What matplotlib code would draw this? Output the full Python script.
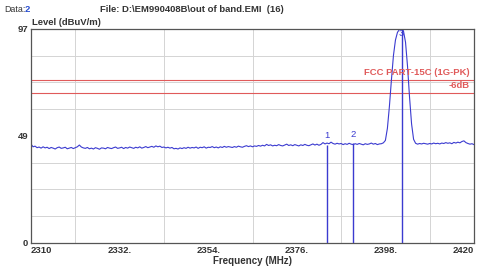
"""Spectrum scan plot (2310-2420 MHz) with FCC Part 15C limit and markers."""

import matplotlib
matplotlib.use("Agg")
import matplotlib.pyplot as plt
import numpy as np

plt.rcParams["font.family"] = ["Liberation Sans", "DejaVu Sans"]

# Trace: level (dBuV/m) vs frequency (MHz), 0.5 MHz steps in the noise floor
noise_freq = [2310 + 0.5 * i for i in range(176)]
noise_level = [
    44.8, 43.6, 43.9, 43.2, 43.5, 43.0, 43.6, 43.1, 43.4, 42.8,
    43.3, 43.0, 42.6, 43.2, 43.5, 42.9, 43.1, 43.4, 42.7, 43.0,
    43.3, 42.8, 43.2, 43.6, 44.4, 43.5, 43.1, 42.9, 43.3, 42.7,
    43.0, 42.6, 43.2, 42.9, 42.5, 43.1, 43.0, 42.7, 43.3, 43.0,
    42.8, 43.2, 43.5, 42.9, 43.1, 43.4, 42.8, 43.3, 43.0, 43.5,
    43.2, 42.9, 43.4, 43.1, 43.6, 43.0, 43.3, 43.7, 43.2, 43.5,
    43.8, 43.4, 44.0, 43.6, 43.9, 43.3, 43.5, 43.1, 43.4, 43.0,
    43.3, 42.7, 42.9, 42.6, 43.1, 42.8, 43.2, 42.9, 43.4, 43.0,
    43.3, 43.1, 43.5, 42.9, 43.4, 43.2, 43.6, 43.0, 43.4, 43.3,
    43.7, 43.2, 43.5, 43.1, 43.6, 43.3, 43.8, 43.4, 43.7, 43.5,
    43.3, 43.7, 43.4, 43.9, 43.6, 43.4, 43.8, 44.1, 43.7, 44.0,
    43.6, 44.0, 43.8, 44.2, 43.9, 44.3, 44.0, 44.7, 44.2, 44.5,
    44.0, 44.3, 44.1, 44.6, 44.2, 44.0, 44.4, 44.8, 44.2, 44.5,
    44.1, 44.6, 44.3, 44.0, 44.5, 44.2, 44.7, 44.3, 44.1, 44.5,
    44.9, 44.4, 44.8, 44.3, 44.7, 45.5, 44.9, 45.3, 45.0, 45.7,
    45.1, 44.8, 45.2, 44.9, 45.1, 44.6, 45.0, 44.7, 45.2, 44.8,
    44.6, 45.0, 44.7, 45.1, 44.8, 44.5, 45.0, 44.7, 44.9, 45.3,
    44.8, 45.1, 44.6, 44.9, 45.0, 45.4,
]
peak_freq = [2398.0, 2398.5, 2399.0, 2399.5, 2400.0, 2400.5, 2401.0, 2401.5,
             2402.0, 2402.5, 2403.0, 2403.5, 2404.0, 2404.5, 2405.0, 2405.5]
peak_level = [46.5, 52.0, 62.0, 74.0, 85.0, 92.0, 95.5, 96.8,
              97.0, 96.0, 91.0, 80.0, 66.0, 54.0, 47.0, 45.2]
tail_freq = [2406 + 0.5 * i for i in range(29)]
tail_level = [44.8, 45.1, 44.9, 45.2, 45.0, 44.8, 45.1, 44.9, 45.3, 45.0,
              45.2, 44.9, 45.3, 45.1, 45.5, 45.2, 45.4, 45.0, 45.6, 45.3,
              45.7, 45.4, 46.0, 46.3, 45.5, 45.1, 44.8, 45.0, 44.6]

freq = noise_freq + peak_freq + tail_freq
level = noise_level + peak_level + tail_level

# Limit lines
limit_value = 74.0
limit_margin = 68.0
limit_label = "FCC PART-15C (1G-PK)"
margin_label = "-6dB"

# Markers
marker_freq = [2383.5, 2390.0, 2402.0]
marker_level = [44.6, 45.2, 97.0]
marker_names = ["1", "2", "3"]

x_ticks = [2310, 2332, 2354, 2376, 2398, 2420]
x_tick_labels = ["2310", "2332.", "2354.", "2376.", "2398.", "2420"]
y_ticks = [0, 48.5, 97]
y_tick_labels = ["0", "49", "97"]

TRACE = "#3b3bd0"
RED = "#e05a5a"
TEXT = "#333333"
FS = 6.8

fig = plt.figure(figsize=(4.78, 2.68), dpi=100)
ax = fig.add_axes([0.0649, 0.0933, 0.9267, 0.7985])

ax.set_xlim(2310, 2420)
ax.set_ylim(0, 97)

# grid: 10 vertical, 8 horizontal divisions
ax.set_xticks(np.linspace(2310, 2420, 11), minor=True)
ax.set_yticks(np.linspace(0, 97, 9), minor=True)
ax.grid(True, which="minor", color="#d4d4d4", linewidth=0.7)
ax.set_xticks(x_ticks)
ax.set_xticklabels(x_tick_labels)
ax.set_yticks(y_ticks)
ax.set_yticklabels(y_tick_labels)
ax.tick_params(which="both", length=0, labelsize=FS, colors=TEXT, pad=2)
for lab in ax.get_xticklabels() + ax.get_yticklabels():
    lab.set_fontweight("bold")
xl = ax.get_xticklabels()
xl[0].set_horizontalalignment("left")
xl[-1].set_horizontalalignment("right")
for sp in ax.spines.values():
    sp.set_color("#555555")
    sp.set_linewidth(0.9)

ax.axhline(limit_value, color=RED, linewidth=0.8)
ax.axhline(limit_margin, color=RED, linewidth=0.8)
ax.text(2419, limit_value + 1.2, limit_label, color=RED, fontsize=FS,
        ha="right", va="bottom", fontweight="bold")
ax.text(2419, limit_margin + 1.2, margin_label, color=RED, fontsize=FS,
        ha="right", va="bottom", fontweight="bold")

ax.plot(freq, level, color=TRACE, linewidth=0.8)

for f, lv, name in zip(marker_freq, marker_level, marker_names):
    ax.vlines(f, 0, lv, color=TRACE, linewidth=1.0)
    ax.text(f, min(lv + 4.0, 95.0), name, color=TRACE, fontsize=FS,
            ha="center", va="center")

ax.set_xlabel("Frequency (MHz)", fontsize=FS + 0.2, color=TEXT,
              fontweight="bold", labelpad=1)
ax.text(0.003, 1.01, "Level (dBuV/m)", transform=ax.transAxes, fontsize=FS,
        color=TEXT, fontweight="bold", ha="left", va="bottom")

fig.text(4 / 478, 1 - 9 / 268, "Data:", fontsize=FS - 0.4, color=TEXT,
         va="center")
fig.text(25 / 478, 1 - 9 / 268, "2", fontsize=FS, color="#2a4fd0",
         fontweight="bold", va="center")
fig.text(100 / 478, 1 - 9 / 268, "File: D:\\EM990408B\\out of band.EMI  (16)",
         fontsize=FS, color=TEXT, fontweight="bold", va="center")

fig.savefig("out.png", dpi=100)
